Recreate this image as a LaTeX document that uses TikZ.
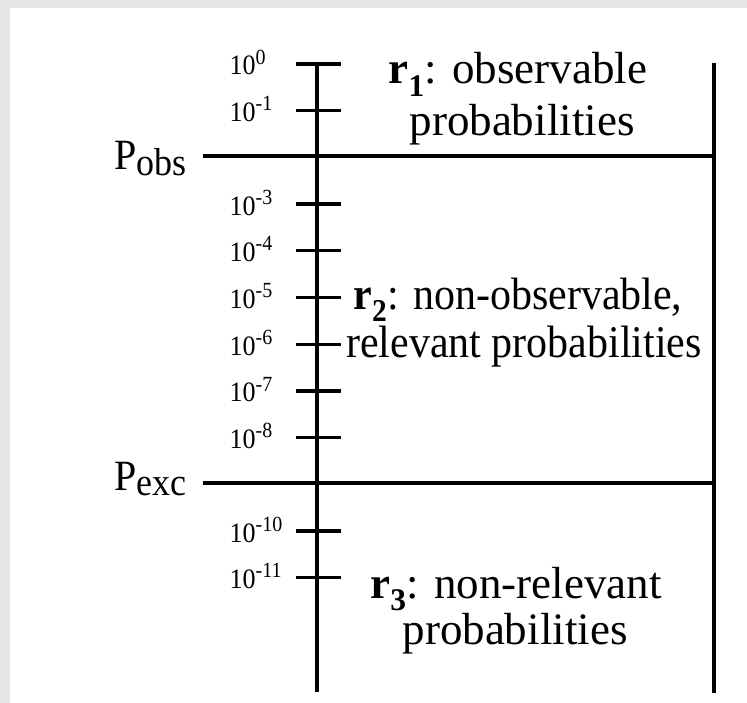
\documentclass[tikz,border=0pt]{standalone}
\usepackage{fontspec}
\setmainfont{Liberation Serif}
\usepackage{graphicx}
\newcommand\vst[1]{\scalebox{1}[1.08]{#1}}
\newcommand\tsup[1]{\raisebox{10pt}{\fontsize{20}{20}\selectfont #1}}
\begin{document}
\begin{tikzpicture}[x=1pt,y=-1pt,line width=3.3pt,
  lbl/.style={anchor=base west,inner sep=0pt,font=\fontsize{26}{26}\selectfont},
  bigtext/.style={anchor=base,inner sep=0pt,font=\fontsize{45}{45}\selectfont},
  midtext/.style={anchor=base,inner sep=0pt,font=\fontsize{42}{42}\selectfont},
  plbl/.style={anchor=base east,inner sep=0pt,font=\fontsize{40}{40}\selectfont}]
\fill[black!10] (0,0) rectangle (747,703);
\fill[white] (10,8) rectangle (747,703);
\useasboundingbox (0,0) rectangle (747,703);
% axis
\coordinate (atop) at (317,64);
\coordinate (abot) at (317,692);
\draw (atop) -- (abot);
% ticks and labels
\foreach \i in {0,1,3,4,5,6,7,8,10,11}{
  \pgfmathsetmacro\yy{64+\i*46.7}
  \coordinate (tl\i) at (296,\yy);
  \coordinate (tr\i) at (341,\yy);
  \draw (tl\i) -- (tr\i);
}
\node[lbl] (l0) at (228,75) {\vst{10\tsup{0}}};
\foreach \i in {1,3,4,5,6,7,8,10,11}{
  \pgfmathsetmacro\yy{64+\i*46.7+11}
  \node[lbl] (l\i) at (228,\yy) {\vst{10\tsup{-\i}}};
}
% thresholds
\coordinate (obsL) at (203,156);
\coordinate (obsR) at (714,156);
\coordinate (excL) at (203,483);
\coordinate (excR) at (714,483);
\draw (obsL) -- (obsR);
\draw (excL) -- (excR);
\coordinate (rtop) at (714,63);
\coordinate (rbot) at (714,693);
\draw (rtop) -- (rbot);
\node[plbl] (pobs) at (188,170) {\vst{P\raisebox{-5pt}{\fontsize{36}{36}\selectfont obs}}};
\node[plbl] (pexc) at (188,490) {\vst{P\raisebox{-5pt}{\fontsize{36}{36}\selectfont exc}}};
% region texts
\node[bigtext] (r1a) at (518,84) {\textbf{r}\textsubscript{\textbf{1}}: observable};
\node[bigtext] (r1b) at (522,136) {probabilities};
\node[midtext] (r2a) at (518,310) {\vst{\textbf{r}\textsubscript{\textbf{2}}: non-observable,}};
\node[midtext] (r2b) at (524,357) {\vst{relevant probabilities}};
\node[bigtext] (r3a) at (516,598) {\textbf{r}\textsubscript{\textbf{3}}: non-relevant};
\node[bigtext] (r3b) at (515,644) {probabilities};
\end{tikzpicture}
\end{document}
